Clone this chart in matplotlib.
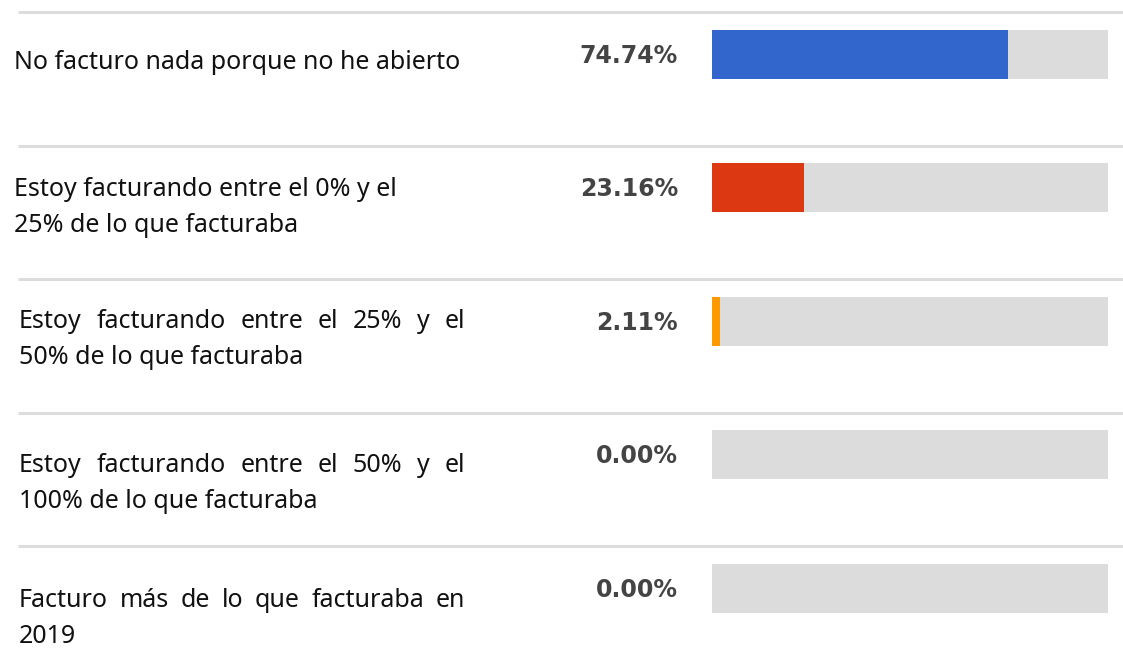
import matplotlib
matplotlib.use('Agg')
import matplotlib.pyplot as plt
from matplotlib.transforms import blended_transform_factory

# --- data ---
labels = [
    ['No facturo nada porque no he abierto'],
    ['Estoy facturando entre el 0% y el', '25% de lo que facturaba'],
    ['Estoy facturando entre el 25% y el', '50% de lo que facturaba'],
    ['Estoy facturando entre el 50% y el', '100% de lo que facturaba'],
    ['Facturo más de lo que facturaba en', '2019'],
]
values = [74.74, 23.16, 2.11, 0.00, 0.00]
colors = ['#3366cc', '#dc3912', '#ff9900', '#3366cc', '#3366cc']
justify_first = [False, False, True, True, True]

# --- layout (pixels) ---
W, H = 1123, 672
label_x = [14, 14, 19, 19, 19]
label_offset = [8, 20, 18, 29, 30]       # text block centre below bar centre
justify_width = 446
row_pitch, first_row = 133.5, 54.5
font_lbl = 18
line_gap = 36

fig = plt.figure(figsize=(W / 100, H / 100), dpi=100)
fig.patch.set_facecolor('white')
ax = fig.add_axes([712 / W, 0, (1108 - 712) / W, 1])
ax.set_xlim(0, 100)
ax.set_ylim((H - first_row) / row_pitch, -first_row / row_pitch)
ax.axis('off')

rows = list(range(len(values)))
ax.barh(rows, [100] * len(rows), height=49 / row_pitch, color='#dcdcdc', zorder=1)
ax.barh(rows, values, height=49 / row_pitch, color=colors, zorder=2)

tr = blended_transform_factory(fig.transFigure, ax.transData)

# separators
for i in rows:
    ax.plot([18 / W, 1.0], [i - 0.318, i - 0.318], color='#dddddd', lw=2.2,
            transform=tr, clip_on=False, solid_capstyle='butt')

# percent labels
for i, v in enumerate(values):
    ax.text(678 / W, i + 0.01, f'{v:.2f}%', transform=tr, ha='right', va='center',
            fontsize=17, family='DejaVu Sans', fontweight='bold', color='#444444')

fig.canvas.draw()
renderer = fig.canvas.get_renderer()


def put_words(words, x0, y, justify):
    if not justify:
        ax.text(x0 / W, y, ' '.join(words), transform=tr, ha='left', va='center',
                fontsize=font_lbl, family='Noto Sans', color='#111111')
        return
    texts = [ax.text(0, y, w, transform=tr, ha='left', va='center',
                     fontsize=font_lbl, family='Noto Sans', color='#111111') for w in words]
    widths = [t.get_window_extent(renderer).width for t in texts]
    gap = (justify_width - sum(widths)) / (len(words) - 1)
    x = x0
    for t, w in zip(texts, widths):
        t.set_x(x / W)
        x += w + gap


for i, lines in enumerate(labels):
    n = len(lines)
    centre = first_row + row_pitch * i + label_offset[i]
    for k, line in enumerate(lines):
        ypix = centre + (k - (n - 1) / 2) * line_gap
        y = (ypix - first_row) / row_pitch
        put_words(line.split(), label_x[i], y, justify_first[i] and k == 0)

fig.savefig('out.png', dpi=100, facecolor='white')
